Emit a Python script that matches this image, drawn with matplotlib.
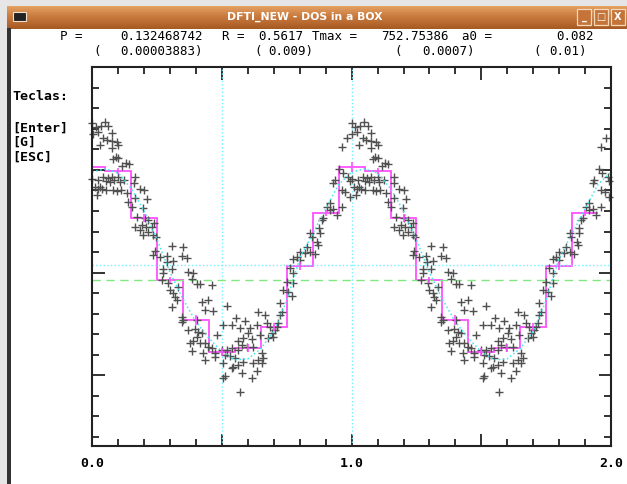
import matplotlib.pyplot as plt
import numpy as np
from matplotlib.patches import Rectangle

# phase folded light curve, one cycle (drawn again at phase + 1)
phase = [0.049, 0.000, 0.034, 0.062, 0.014, 0.002, 0.021, 0.075, 0.042, 0.056,
         0.075, 0.094, 0.100, 0.030, 0.075, 0.090, 0.100, 0.081, 0.129, 0.142,
         0.116, 0.000, 0.023, 0.042, 0.059, 0.075, 0.052, 0.068, 0.085, 0.100,
         0.107, 0.123, 0.010, 0.030, 0.021, 0.036, 0.052, 0.081, 0.094, 0.111,
         0.017, 0.165, 0.162, 0.184, 0.201, 0.133, 0.165, 0.210, 0.139, 0.152,
         0.197, 0.171, 0.203, 0.165, 0.216, 0.191, 0.206, 0.184, 0.216, 0.197,
         0.238, 0.229, 0.235, 0.245, 0.242, 0.235, 0.306, 0.351, 0.261, 0.287,
         0.312, 0.345, 0.364, 0.289, 0.274, 0.274, 0.306, 0.370, 0.390, 0.383,
         0.268, 0.293, 0.403, 0.415, 0.460, 0.332, 0.300, 0.312, 0.319, 0.325,
         0.306, 0.422, 0.447, 0.435, 0.467, 0.345, 0.351, 0.345, 0.403, 0.370,
         0.396, 0.409, 0.422, 0.403, 0.480, 0.390, 0.435, 0.377, 0.415, 0.447,
         0.383, 0.460, 0.473, 0.428, 0.473, 0.435,
         0.499, 0.518, 0.538, 0.505, 0.538, 0.554, 0.589, 0.570, 0.608, 0.602,
         0.640, 0.666, 0.673, 0.634, 0.647, 0.582, 0.615, 0.563, 0.576, 0.595,
         0.621, 0.563, 0.512, 0.531, 0.550, 0.653, 0.659, 0.640, 0.505, 0.544,
         0.563, 0.582, 0.653, 0.621, 0.634, 0.538, 0.576, 0.512, 0.615, 0.570,
         0.505, 0.679, 0.692, 0.705, 0.698, 0.717, 0.724, 0.730, 0.685, 0.711,
         0.724, 0.518,
         0.962, 0.981, 0.953, 0.966, 0.987, 0.994, 0.936, 0.929, 0.962, 0.975,
         0.994, 0.917, 0.904, 0.917, 0.929, 0.962, 0.943, 0.891, 0.885, 0.875,
         0.840, 0.846, 0.878, 0.868, 0.872, 0.827, 0.801, 0.820, 0.840, 0.859,
         0.788, 0.775, 0.801, 0.762, 0.775, 0.750, 0.775, 0.737, 0.756, 0.769]
delta = [73.5, 72.8, 71.6, 71.6, 70.8, 67.5, 68.7, 68.2, 65.5, 64.6,
         64.1, 63.5, 62.2, 62.2, 60.6, 56.5, 56.0, 55.4, 53.3, 52.8,
         52.0, 45.5, 45.1, 46.8, 46.0, 46.8, 44.8, 44.3, 45.1, 46.8,
         44.3, 45.1, 41.9, 41.6, 40.6, 40.6, 40.3, 40.3, 39.9, 40.3,
         37.8, 46.8, 43.8, 40.6, 40.3, 38.7, 36.2, 35.7, 34.6, 32.1,
         31.4, 27.3, 26.5, 22.4, 25.7, 23.2, 22.1, 20.8, 20.0, 18.4,
         24.1, 22.4, 18.4, 17.5, 10.7, 8.6, 13.1, 12.4, 7.5, 8.1,
         5.8, 8.1, 7.0, 5.4, 1.7, -0.3, 1.7, 0.2, 0.0, -3.2,
         -3.6, -4.9, -5.5, -5.5, -6.0, -6.8, -8.4, -10.0, -11.7, -13.3,
         -16.9, -14.1, -13.3, -18.2, -18.5, -21.7, -23.0, -23.9, -23.0, -27.9,
         -27.6, -28.7, -29.5, -31.5, -30.3, -33.1, -34.1, -34.4, -34.4, -36.0,
         -38.0, -36.8, -39.3, -39.3, -40.9, -42.5,
         -37.6, -37.6, -36.8, -25.5, -25.5, -22.2, -23.4, -27.1, -27.1, -29.5,
         -19.0, -20.6, -24.4, -25.5, -30.3, -31.9, -32.4, -33.1, -35.2, -36.0,
         -36.0, -37.6, -40.1, -40.6, -41.7, -39.3, -41.7, -42.5, -44.1, -45.8,
         -45.0, -43.3, -44.1, -44.1, -47.7, -46.6, -48.7, -50.3, -51.4, -58.0,
         -51.4, -31.9, -29.5, -27.9, -31.5, -24.4, -20.6, -19.0, -26.6, -26.3,
         -14.9, -16.2,
         61.1, 65.5, 50.4, 48.4, 46.8, 44.8, 45.1, 43.8, 40.3, 39.4,
         36.7, 34.1, 32.1, 30.5, 30.9, 31.8, 28.1, 26.5, 25.7, 21.6,
         19.2, 17.2, 19.2, 15.1, 13.5, 12.7, 10.2, 9.4, 10.2, 9.1,
         7.8, 6.5, 6.2, 2.1, -0.3, -4.4, -5.2, -8.4, -9.3, -11.3]

# binned means (bins of 0.1 in phase) and their errors
bin_phase = [0.0, 0.1, 0.2, 0.3, 0.4, 0.5, 0.6, 0.7, 0.8, 0.9]
bin_mean = [51.5, 49.5, 26.6, -3.6, -23.0, -38.6, -36.7, -26.5, 3.3, 29.1]
bin_err = [2.4, 1.6, 2.0, 1.7, 2.4, 2.0, 2.0, 2.0, 2.0, 1.6]

# fitted curve
fit_phase = [0.0, 0.05, 0.1, 0.15, 0.2, 0.25, 0.3, 0.35, 0.4, 0.45, 0.5,
             0.55, 0.6, 0.65, 0.7, 0.75, 0.8, 0.85, 0.9, 0.95, 1.0]
fit_delta = [49.0, 50.5, 48.5, 41.0, 30.0, 16.0, 0.0, -13.0, -24.0, -32.0, -38.5,
             -42.5, -42.0, -37.0, -28.5, -13.5, 7.0, 19.0, 31.0, 43.0, 49.0]

mean_level = 3.7
a0_level = -3.6

W, H = 627, 484
fig = plt.figure(figsize=(W / 100, H / 100), dpi=100)
fig.patch.set_facecolor('white')


def box(x0, y0, x1, y1):
    return [x0 / W, 1 - y1 / H, (x1 - x0) / W, (y1 - y0) / H]


def rect(x0, y0, x1, y1, **kw):
    b = box(x0, y0, x1, y1)
    fig.add_artist(Rectangle((b[0], b[1]), b[2], b[3], transform=fig.transFigure, **kw))


# window frame
rect(0, 0, W, 6, color='#e6e6e6', lw=0)
rect(0, 0, 7, H, color='#e6e6e6', lw=0)
rect(7, 28, 11, H, color='#333333', lw=0)
tb = fig.add_axes(box(7, 5, W, 29))
tb.imshow(np.linspace(0, 1, 24).reshape(-1, 1), aspect='auto',
          cmap=plt.matplotlib.colors.LinearSegmentedColormap.from_list('t', ['#e9a868', '#c97a3e', '#a85a24']))
tb.axis('off')
fig.text(305 / W, 1 - 17 / H, 'DFTI_NEW - DOS in a BOX', color='white', fontsize=7.8,
         fontweight='bold', ha='center', va='center')
rect(13, 12, 26, 21, facecolor='#222222', edgecolor='#f0e0d0', lw=0.8)
for bx, g in [(577, '_'), (594, '□'), (611, 'X')]:
    rect(bx, 9, bx + 14, 25, facecolor='#c47438', edgecolor='#f5d8b8', lw=0.9)
    fig.text((bx + 7) / W, 1 - 17 / H, g, color='white', fontsize=7, fontweight='bold',
             ha='center', va='center')

mono = 'DejaVu Sans Mono'
row1 = [(60, 'P ='), (120, '0.132468742'), (222, 'R ='), (258, '0.5617'),
        (312, 'Tmax ='), (381, '752.75386'), (462, 'a0 ='), (556, '0.082')]
row2 = [(93, '('), (120, '0.00003883)'), (254, '('), (268, '0.009)'),
        (394, '('), (422, '0.0007)'), (533, '('), (549, '0.01)')]
for x, s in row1:
    fig.text(x / W, 1 - 37 / H, s, family=mono, fontsize=9, ha='left', va='center')
for x, s in row2:
    fig.text(x / W, 1 - 51 / H, s, family=mono, fontsize=9, ha='left', va='center')
for y, s in [(97, 'Teclas:'), (128, '[Enter]'), (142, '[G]'), (157, '[ESC]')]:
    fig.text(12 / W, 1 - y / H, s, family=mono, fontsize=9.5, fontweight='bold',
             ha='left', va='center')

ax = fig.add_axes(box(92.3, 67.3, 611, 445.7))
ax.set_xlim(0, 2)
ax.set_ylim(-84.3, 100)

ax.axvline(0.5, color='#70f0ff', ls=':', lw=1)
ax.axvline(1.0, color='#70f0ff', ls=':', lw=1)
ax.axhline(mean_level, color='#70f0ff', ls=':', lw=1)
ax.axhline(a0_level, color='#80e880', ls='--', lw=1, dashes=(6, 4))

for k in (0, 1):
    ax.plot(np.array(phase) + k, delta, '+', color='#505050', ms=5.5, mew=1.0, clip_on=False)
    ax.plot(np.array(fit_phase) + k, fit_delta, ':', color='#40e8f0', lw=1.1)

centers = np.concatenate([bin_phase, np.array(bin_phase) + 1])
means = bin_mean * 2
edges = np.append(centers - 0.05, centers[-1] + 0.05)
ax.stairs(means, edges, color='#ff50ff', lw=1.3, baseline=None)
ax.errorbar(centers, means, yerr=bin_err * 2, fmt='none', ecolor='#ff50ff', elinewidth=1.2, capsize=0)

ax.set_xticks([0, 0.5, 1, 1.5, 2], ['0.0', '', '1.0', '', '2.0'])
ax.set_xticks(np.arange(0, 2.01, 0.1), minor=True)
ax.set_yticks([-50, 0, 50], ['', '', ''])
ax.set_yticks(np.arange(-80, 100, 10), minor=True)
ax.tick_params(which='both', direction='in', top=True, right=True, width=1.3, color='#222222')
ax.tick_params(which='major', length=9, pad=8)
ax.tick_params(which='minor', length=5)
for lab in ax.get_xticklabels():
    lab.set_family(mono)
    lab.set_fontweight('bold')
    lab.set_fontsize(9.5)
for sp in ax.spines.values():
    sp.set_linewidth(1.5)
    sp.set_color('#222222')

fig.savefig('out.png', dpi=100)
